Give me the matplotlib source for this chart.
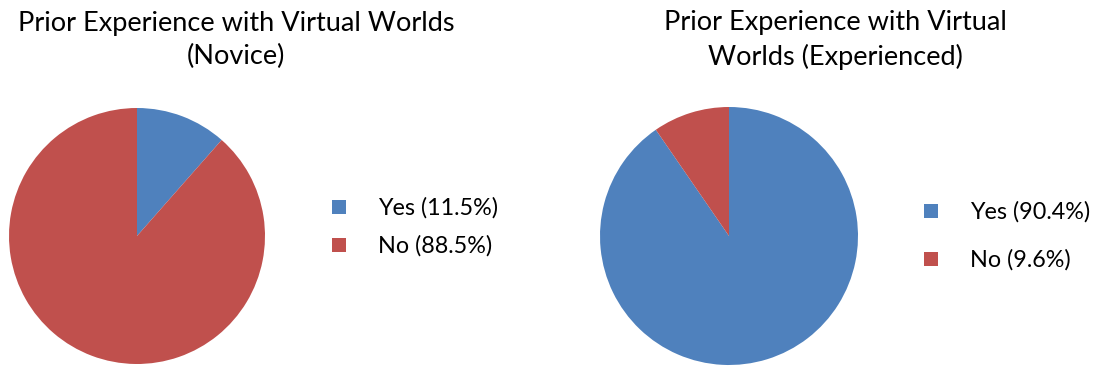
import matplotlib

matplotlib.use("Agg")
import matplotlib.pyplot as plt
from matplotlib.patches import Rectangle

# data
labels = ["Yes", "No"]
novice_pct = [11.5, 88.5]
experienced_pct = [90.4, 9.6]
colors = ["#4F81BD", "#C0504D"]

W, H = 1094, 366
plt.rcParams["font.family"] = ["Lato", "DejaVu Sans"]

fig = plt.figure(figsize=(W / 100, H / 100), dpi=100)
fig.patch.set_facecolor("white")


def px_axes(x0, y0, x1, y1):
    # pixel box, top-left origin
    return fig.add_axes([x0 / W, 1 - y1 / H, (x1 - x0) / W, (y1 - y0) / H])


def draw_pie(box, values):
    ax = px_axes(*box)
    ax.pie(values, colors=colors, startangle=90, counterclock=False,
           wedgeprops=dict(linewidth=0))
    ax.set_xlim(-1, 1)
    ax.set_ylim(-1, 1)
    ax.set_aspect("equal")
    ax.axis("off")
    return ax


def draw_legend(x, ys, values):
    for lab, val, col, y in zip(labels, values, colors, ys):
        fig.patches.append(Rectangle(((x) / W, 1 - (y + 7) / H), 14 / W, 14 / H,
                                     transform=fig.transFigure, facecolor=col,
                                     edgecolor="none"))
        fig.text((x + 46) / W, 1 - (y + 1) / H, f"{lab} ({val}%)", fontsize=16.8,
                 va="center", ha="left", color="#000000")


draw_pie((9, 108, 265, 364), novice_pct)
draw_pie((600, 107, 858, 365), experienced_pct)

fig.text(236 / W, 1 - 40 / H, "Prior Experience with Virtual Worlds\n(Novice)",
         ha="center", va="center", fontsize=19.5, linespacing=1.4)
fig.text(835 / W, 1 - 40 / H, "Prior Experience with Virtual\nWorlds (Experienced)",
         ha="center", va="center", fontsize=19.5, linespacing=1.4)

draw_legend(332, [207, 245], novice_pct)
draw_legend(924, [211, 259], experienced_pct)

fig.savefig("out.png", dpi=100)
